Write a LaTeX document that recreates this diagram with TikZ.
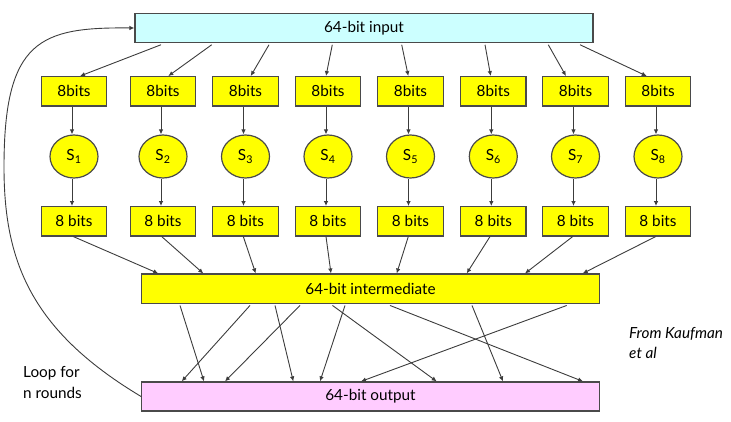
\documentclass[tikz,border=0pt]{standalone}
\usepackage{fontspec}
\setmainfont{Lato}
\usetikzlibrary{arrows.meta,shapes.geometric}

\definecolor{inputfill}{HTML}{CCFFFF}
\definecolor{boxyellow}{HTML}{FFFF00}
\definecolor{outfill}{HTML}{FFCCFF}
\definecolor{edge}{HTML}{4A4A4A}
\definecolor{wire}{HTML}{3C3C3C}

\tikzset{
  lbl/.style={font=\fontsize{15.3}{17}\selectfont},
  wide/.style={draw=edge, line width=1.2pt, minimum width=457.6pt, minimum height=29.3pt,
    inner sep=0pt, lbl},
  bytebox/.style={draw=edge, line width=1.2pt, fill=boxyellow, minimum width=65.5pt,
    minimum height=29.3pt, inner sep=0pt, lbl},
  sbox/.style={ellipse, draw=edge, line width=1.2pt, fill=boxyellow, minimum width=48pt,
    minimum height=43pt, inner sep=0pt, lbl},
  arr/.style={draw=wire, line width=0.9pt, -{Latex[length=5pt,width=4.5pt]}},
  note/.style={align=left, inner sep=0pt, font=\fontsize{15.3}{21}\selectfont},
}

\begin{document}
\begin{tikzpicture}[x=1pt, y=-1pt]
  \useasboundingbox (0,0) rectangle (731,421);

  % wide registers
  \node[wide, fill=inputfill, minimum width=458pt] (in) at (364,28) {64-bit input};
  \node[wide, fill=boxyellow] (mid) at (370.5,288.7) {64-bit intermediate};
  \node[wide, fill=outfill, minimum height=29pt] (out) at (370.5,396.5) {64-bit output};

  % eight byte lanes: input byte, S-box, output byte
  \foreach \i/\x in {1/74, 2/163, 3/245.5, 4/328, 5/410.5, 6/493.3, 7/575.5, 8/658} {
    \node[bytebox] (t\i) at (\x,91.3) {8bits};
    \node[sbox] (s\i) at (\x,156.5) {S\textsubscript{\i}};
    \node[bytebox] (b\i) at (\x,221.3) {8 bits};
    \draw[arr] ([xshift=-2pt]t\i.south) -- ([xshift=-2pt]s\i.north);
    \draw[arr] ([xshift=-2pt]s\i.south) -- ([xshift=-2pt]b\i.north);
  }

  % input register split into bytes
  \foreach \i/\a/\b in {1/-203/6, 2/-152.3/5.3, 3/-95/5.2, 4/-31.7/-2,
                        5/37.7/-2.2, 6/121/-2.6, 7/184.3/-9.5, 8/216/-11.3}
    \draw[arr] ([xshift=\a pt, yshift=-1.5pt]in.south) -- ([xshift=\b pt]t\i.north);

  % bytes gathered into the intermediate register
  \foreach \i/\a/\b in {1/-0.7/-212.2, 2/-1.3/-167.2, 3/-2.2/-114.8, 4/-2/-39.5,
                        5/-2.2/26.2, 6/-3.3/96.2, 7/-2.8/154.5, 8/-2.3/212.2}
    \draw[arr] ([xshift=\a pt]b\i.south) -- ([xshift=\b pt]mid.north);

  % permutation wires
  \foreach \a/\b in {-190.5/-166.5, -120.5/-188.8, -95.5/-77.2, -70.5/-145.5,
                     -25.5/-50.5, -38/66.2, 19.5/212.5, 101.5/132.5, 196.2/-9.5}
    \draw[arr] ([xshift=\a pt, yshift=-1.5pt]mid.south) -- ([xshift=\b pt]out.north);

  % feedback loop
  \coordinate (loopL) at (4,167);
  \draw[arr] (out.west) .. controls (30,330) and (4,260) .. (loopL)
             .. controls (4,40) and (40,27) .. (in.west);

  \node[note, anchor=west] (looptxt) at (23,382) {Loop for\\n rounds};
  \node[note, anchor=west, font=\fontsize{15.3}{20}\selectfont\itshape] (src) at (629,343) {From Kaufman\\et al};
\end{tikzpicture}
\end{document}
